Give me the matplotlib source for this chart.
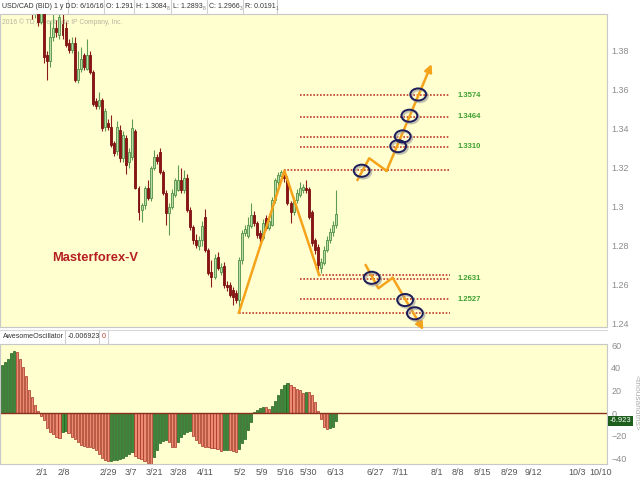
import matplotlib.pyplot as plt
import numpy as np
from matplotlib.patches import Ellipse
from matplotlib.lines import Line2D

plt.rcParams['font.family'] = ['Liberation Sans', 'DejaVu Sans']

# USD/CAD daily candles, one per trading day (mid Jan 2016 .. 6/16/16)
opens = [1.4480, 1.4530, 1.4560, 1.4400, 1.4600, 1.4350, 1.4130, 1.4290, 1.4160, 1.4120,
         1.4050, 1.4020, 1.4040, 1.3950, 1.4070, 1.3780, 1.3750, 1.3870, 1.3920, 1.3880,
         1.3940, 1.3920, 1.3840, 1.3805, 1.3840, 1.3650, 1.3710, 1.3780, 1.3710, 1.3780,
         1.3690, 1.3545, 1.3520, 1.3550, 1.3410, 1.3430, 1.3410, 1.3330, 1.3285, 1.3395,
         1.3251, 1.3354, 1.3231, 1.3256, 1.3390, 1.3097, 1.2985, 1.3010, 1.3097, 1.3046,
         1.3200, 1.3256, 1.3282, 1.3180, 1.3072, 1.2970, 1.3000, 1.3062, 1.3087, 1.3138,
         1.3087, 1.3150, 1.2985, 1.2897, 1.2831, 1.2800, 1.2830, 1.2950, 1.2780, 1.2667,
         1.2641, 1.2745, 1.2667, 1.2697, 1.2600, 1.2600, 1.2574, 1.2560, 1.2523, 1.2728,
         1.2866, 1.2850, 1.2905, 1.2960, 1.2918, 1.2866, 1.2840, 1.2944, 1.2892, 1.2908,
         1.3036, 1.3130, 1.3160, 1.3180, 1.3140, 1.3020, 1.2975, 1.3036, 1.3060, 1.3087,
         1.3097, 1.3092, 1.2974, 1.2831, 1.2795, 1.2688, 1.2713, 1.2779, 1.2831, 1.2872,
         1.2910]
highs = [1.4560, 1.4580, 1.4620, 1.4690, 1.4610, 1.4370, 1.4300, 1.4300, 1.4220, 1.4140,
         1.4090, 1.4080, 1.4070, 1.4090, 1.4080, 1.3800, 1.3955, 1.3990, 1.3960, 1.3990,
         1.4010, 1.3950, 1.3860, 1.3870, 1.3870, 1.3800, 1.3820, 1.3790, 1.3860, 1.3800,
         1.3700, 1.3560, 1.3590, 1.3560, 1.3510, 1.3450, 1.3470, 1.3340, 1.3440, 1.3420,
         1.3390, 1.3370, 1.3300, 1.3450, 1.3400, 1.3110, 1.3020, 1.3110, 1.3138, 1.3210,
         1.3292, 1.3270, 1.3300, 1.3190, 1.3087, 1.3020, 1.3090, 1.3150, 1.3215, 1.3200,
         1.3190, 1.3170, 1.3000, 1.2910, 1.2860, 1.2850, 1.2930, 1.2990, 1.2790, 1.2728,
         1.2760, 1.2770, 1.2715, 1.2720, 1.2620, 1.2615, 1.2590, 1.2575, 1.2745, 1.2880,
         1.2910, 1.2950, 1.3020, 1.2980, 1.2930, 1.2880, 1.2940, 1.2960, 1.2950, 1.3050,
         1.3150, 1.3180, 1.3190, 1.3188, 1.3160, 1.3030, 1.3050, 1.3090, 1.3130, 1.3120,
         1.3140, 1.3100, 1.2985, 1.2840, 1.2810, 1.2740, 1.2800, 1.2850, 1.2890, 1.2930,
         1.3085]
lows = [1.4430, 1.4470, 1.4380, 1.4380, 1.4330, 1.4100, 1.4100, 1.4150, 1.4080, 1.4020,
        1.3965, 1.3970, 1.3930, 1.3940, 1.3740, 1.3650, 1.3720, 1.3850, 1.3870, 1.3860,
        1.3860, 1.3820, 1.3790, 1.3790, 1.3640, 1.3635, 1.3690, 1.3700, 1.3700, 1.3680,
        1.3520, 1.3500, 1.3500, 1.3390, 1.3390, 1.3395, 1.3310, 1.3260, 1.3265, 1.3230,
        1.3230, 1.3170, 1.3200, 1.3240, 1.3090, 1.2933, 1.2925, 1.2990, 1.3036, 1.3030,
        1.3190, 1.3220, 1.3170, 1.3060, 1.2908, 1.2856, 1.2990, 1.3050, 1.3080, 1.3070,
        1.3070, 1.2975, 1.2880, 1.2810, 1.2790, 1.2780, 1.2800, 1.2770, 1.2650, 1.2590,
        1.2630, 1.2675, 1.2650, 1.2585, 1.2570, 1.2540, 1.2497, 1.2510, 1.2458, 1.2710,
        1.2850, 1.2840, 1.2890, 1.2900, 1.2840, 1.2820, 1.2830, 1.2880, 1.2880, 1.2900,
        1.3020, 1.3110, 1.3140, 1.3130, 1.3010, 1.2918, 1.2960, 1.3020, 1.3050, 1.3070,
        1.3070, 1.2940, 1.2800, 1.2760, 1.2651, 1.2660, 1.2700, 1.2770, 1.2815, 1.2850,
        1.2893]
closes = [1.4530, 1.4560, 1.4400, 1.4600, 1.4350, 1.4130, 1.4290, 1.4160, 1.4120, 1.4050,
          1.4020, 1.4040, 1.3950, 1.4070, 1.3769, 1.3750, 1.3870, 1.3920, 1.3895, 1.3975,
          1.3880, 1.3830, 1.3805, 1.3840, 1.3650, 1.3710, 1.3760, 1.3720, 1.3780, 1.3690,
          1.3530, 1.3520, 1.3550, 1.3405, 1.3490, 1.3410, 1.3320, 1.3275, 1.3410, 1.3251,
          1.3369, 1.3215, 1.3282, 1.3405, 1.3097, 1.2974, 1.3010, 1.3097, 1.3046, 1.3200,
          1.3256, 1.3235, 1.3180, 1.3072, 1.2970, 1.3000, 1.3072, 1.3138, 1.3138, 1.3087,
          1.3150, 1.2985, 1.2897, 1.2831, 1.2805, 1.2830, 1.2900, 1.2780, 1.2662, 1.2641,
          1.2738, 1.2687, 1.2690, 1.2600, 1.2590, 1.2549, 1.2540, 1.2523, 1.2728, 1.2866,
          1.2885, 1.2908, 1.2960, 1.2918, 1.2856, 1.2841, 1.2918, 1.2892, 1.2930, 1.3036,
          1.3138, 1.3164, 1.3180, 1.3150, 1.3020, 1.2975, 1.3036, 1.3072, 1.3097, 1.3100,
          1.3085, 1.2949, 1.2815, 1.2779, 1.2703, 1.2718, 1.2780, 1.2831, 1.2872, 1.2908,
          1.2966]

# Awesome Oscillator, thousandths
ao = [43, 45, 48, 53, 55, 54, 48, 41, 33, 20, 14, 7, 2, -3, -6.5, -13, -17, -19, -21, -22,
      -17, -16, -18, -21, -23, -26, -28, -29, -30, -30.5, -31, -33, -36, -40, -42, -43, -42.5,
      -42, -41.5, -41, -40, -38, -36, -35, -38, -40, -41, -43, -44, -46, -39, -33, -27, -25,
      -24, -26, -30, -30.5, -26, -21, -19, -17, -16, -20, -24, -27, -29, -30, -30.5, -31,
      -31.5, -32, -34, -33, -32.5, -33, -34, -34.5, -32, -27, -23, -15, -8, 1, 3, 4.5, 5.5,
      5, 4, 6, 11, 16, 21, 25, 27, 25, 23, 21, 20, 18, 19, 18.5, 16, 10, 2, -5, -12, -14,
      -13.5, -12, -6.923]

date_labels = ['2/1', '2/8', '2/29', '3/7', '3/21', '3/28', '4/11', '5/2', '5/9', '5/16', '5/30',
               '6/13', '6/27', '7/11', '8/1', '8/8', '8/15', '8/29', '9/12', '10/3', '10/10']
date_pos = [13.3, 20.3, 35, 42.5, 50.1, 58, 66.9, 78.4, 85.6, 93.2, 100.8,
            109.6, 122.8, 131, 143.2, 150.1, 158, 166.9, 174.8, 189.2, 197.1]

price_ticks = [1.24, 1.26, 1.28, 1.30, 1.32, 1.34, 1.36, 1.38]
price_labels = ['1.24', '1.26', '1.28', '1.3', '1.32', '1.34', '1.36', '1.38']
ao_ticks = [-40, -20, 0, 20, 40, 60]

# Masterforex-V markup
v_x = [78, 93, 104.4]
v_y = [1.2458, 1.3186, 1.2651]
up_x = [117, 120.9, 126.6, 141.4]
up_y = [1.3138, 1.3250, 1.3185, 1.3733]
dn_x = [119.7, 123.9, 128.6, 138.7]
dn_y = [1.2703, 1.2583, 1.2637, 1.2369]
circle_x = [118.4, 130.4, 131.9, 134.1, 137.0, 121.7, 132.7, 135.9]
circle_y = [1.3186, 1.3312, 1.3362, 1.3468, 1.3577, 1.2637, 1.2523, 1.2455]
level_y = [1.3574, 1.3464, 1.3360, 1.3310, 1.3190, 1.2651, 1.2631, 1.2527, 1.2458]
level_x0 = [98, 98, 98, 98, 93, 104.4, 98, 98, 78]
level_x1 = 147.5
tagged = [1.3574, 1.3464, 1.3310, 1.2631, 1.2527]

W, H = 640, 480
def fx(px):
    return px / W
def fy(py):
    return 1 - py / H

bg = '#ffffd0'
grey = '#8c8c8c'

fig = plt.figure(figsize=(6.4, 4.8), dpi=100)
fig.patch.set_facecolor('white')
ax = fig.add_axes([0, fy(327), fx(607), fy(14) - fy(327)])
ao_ax = fig.add_axes([0, fy(464), fx(607), fy(344) - fy(464)])

for a in (ax, ao_ax):
    a.set_facecolor(bg)
    a.set_xlim(-0.56, 199.1)
    a.yaxis.tick_right()
    a.tick_params(axis='y', length=0, pad=3, labelsize=6.5, labelcolor=grey)
    for s in a.spines.values():
        s.set_color('#c8c8c8')
        s.set_linewidth(0.8)

# candles
x = np.arange(len(closes))
o = np.array(opens)
c = np.array(closes)
h = np.array(highs)
l = np.array(lows)
up = c >= o
body = np.maximum(np.abs(c - o), 0.0004)
base = np.minimum(o, c)
ax.vlines(x[up], l[up], h[up], color='#5f9c52', lw=0.8, zorder=2)
ax.vlines(x[~up], l[~up], h[~up], color='#8a1c1c', lw=0.8, zorder=2)
ax.bar(x[up], body[up], bottom=base[up], width=0.65, color='#b9dcaa',
       edgecolor='#4f8f43', lw=0.6, zorder=3)
ax.bar(x[~up], body[~up], bottom=base[~up], width=0.65, color='#8e1414',
       edgecolor='#7a1010', lw=0.6, zorder=3)

ax.set_ylim(1.23846, 1.39897)
ax.set_yticks(price_ticks)
ax.set_yticklabels(price_labels)
ax.set_xticks([])

ax.text(2 / 607, 1 - 8 / 313, '2016 \u00a9 TD Ameritrade IP Company, Inc.', transform=ax.transAxes,
        fontsize=4.9, color='#b5b5a0', va='center', zorder=1)
ax.text(16.5, 1.2738, 'Masterforex-V', fontsize=9.3, fontweight='bold', color='#b51f1f',
        va='center', zorder=6)

# levels
for ly, lx0 in zip(level_y, level_x0):
    ax.plot([lx0, level_x1], [ly, ly], color='#c0392b', lw=1.2, ls=(0, (1, 1)), zorder=4)
for ly in tagged:
    ax.text(149.8, ly, f'{ly:.4f}', color='#3f9f2f', fontsize=5.5, fontweight='bold',
            va='center', zorder=6)

# zigzags
orange = '#f5a31a'
ax.plot(v_x, v_y, color=orange, lw=1.8, zorder=5)
for zx, zy in ((up_x, up_y), (dn_x, dn_y)):
    ax.plot(zx[:3], zy[:3], color=orange, lw=1.8, zorder=5, solid_capstyle='round')
    ax.annotate('', xy=(zx[3], zy[3]), xytext=(zx[2], zy[2]),
                arrowprops=dict(arrowstyle='-|>', color=orange, lw=1.8, mutation_scale=11,
                                shrinkA=0, shrinkB=0),
                annotation_clip=False, zorder=5)

for cx, cy in zip(circle_x, circle_y):
    ax.add_patch(Ellipse((cx + 0.5, cy - 0.0008), 5.2, 0.0062, fc='none', ec='#9a9a9a',
                         lw=1.6, alpha=0.6, zorder=6))
    ax.add_patch(Ellipse((cx, cy), 5.2, 0.0062, fc='none', ec='#1c1c5a', lw=1.4, zorder=7))

# awesome oscillator
aov = np.array(ao)
rising = np.r_[True, aov[1:] > aov[:-1]]
ao_ax.bar(x[rising], aov[rising], width=0.72, color='#3d8a3a', edgecolor='#1f5e1f', lw=0.5)
ao_ax.bar(x[~rising], aov[~rising], width=0.72, color='#ec8a74', edgecolor='#a3301f', lw=0.5)
ao_ax.axhline(0, color='#8b2e1e', lw=1)
ao_ax.set_ylim(-45.3, 61.3)
ao_ax.set_yticks(ao_ticks)
ao_ax.set_xticks(date_pos)
ao_ax.set_xticklabels(date_labels)
ao_ax.tick_params(axis='x', length=0, pad=3, labelsize=6.5, labelcolor='#555555')

# header strips
r = fig.canvas.get_renderer()
hdr = ['USD/CAD (BID) 1 y D', 'D: 6/16/16', 'O: 1.291', 'H: 1.3084', 'L: 1.2893',
       'C: 1.2966', 'R: 0.0191']
hdr_tail = ['', '', '', '8', '8', '3', '1']
hdr_px = [2, 71, 106, 136, 173, 209, 245]
hdr_sep = [68, 104, 134, 171, 207, 243, 277]
for t, tail, px in zip(hdr, hdr_tail, hdr_px):
    txt = fig.text(fx(px), fy(7), t, fontsize=5.0, color='#333333', va='center')
    if tail:
        bb = txt.get_window_extent(r)
        fig.text(fx(bb.x1 + 0.3), fy(8), tail, fontsize=3.5, color='#777777', va='center')
for sx in hdr_sep:
    fig.add_artist(Line2D([fx(sx), fx(sx)], [fy(0), fy(14)], color='#d0d0d0', lw=0.8))

fig.add_artist(Line2D([0, fx(607)], [fy(330), fy(330)], color='#d8d8d8', lw=0.8))
fig.text(fx(3), fy(337), 'AwesomeOscillator', fontsize=5.1, color='#333333', va='center')
fig.text(fx(68), fy(337), '-0.006923', fontsize=5.1, color='#333333', va='center')
fig.text(fx(102), fy(337), '0', fontsize=5.1, color='#c0392b', va='center')
for sx in (65, 99, 108):
    fig.add_artist(Line2D([fx(sx), fx(sx)], [fy(330), fy(344)], color='#d0d0d0', lw=0.8))

fig.text(fx(610), fy(421), '-6.923', fontsize=5.5, color='white', va='center',
         bbox=dict(boxstyle='square,pad=0.2', fc='#1d5e1d', ec='none'))
fig.text(fx(636), fy(403), '<thousandths>', fontsize=6, color='#b0b0b0', rotation=270,
         va='center', ha='center')

plt.savefig('out.png', dpi=100)
